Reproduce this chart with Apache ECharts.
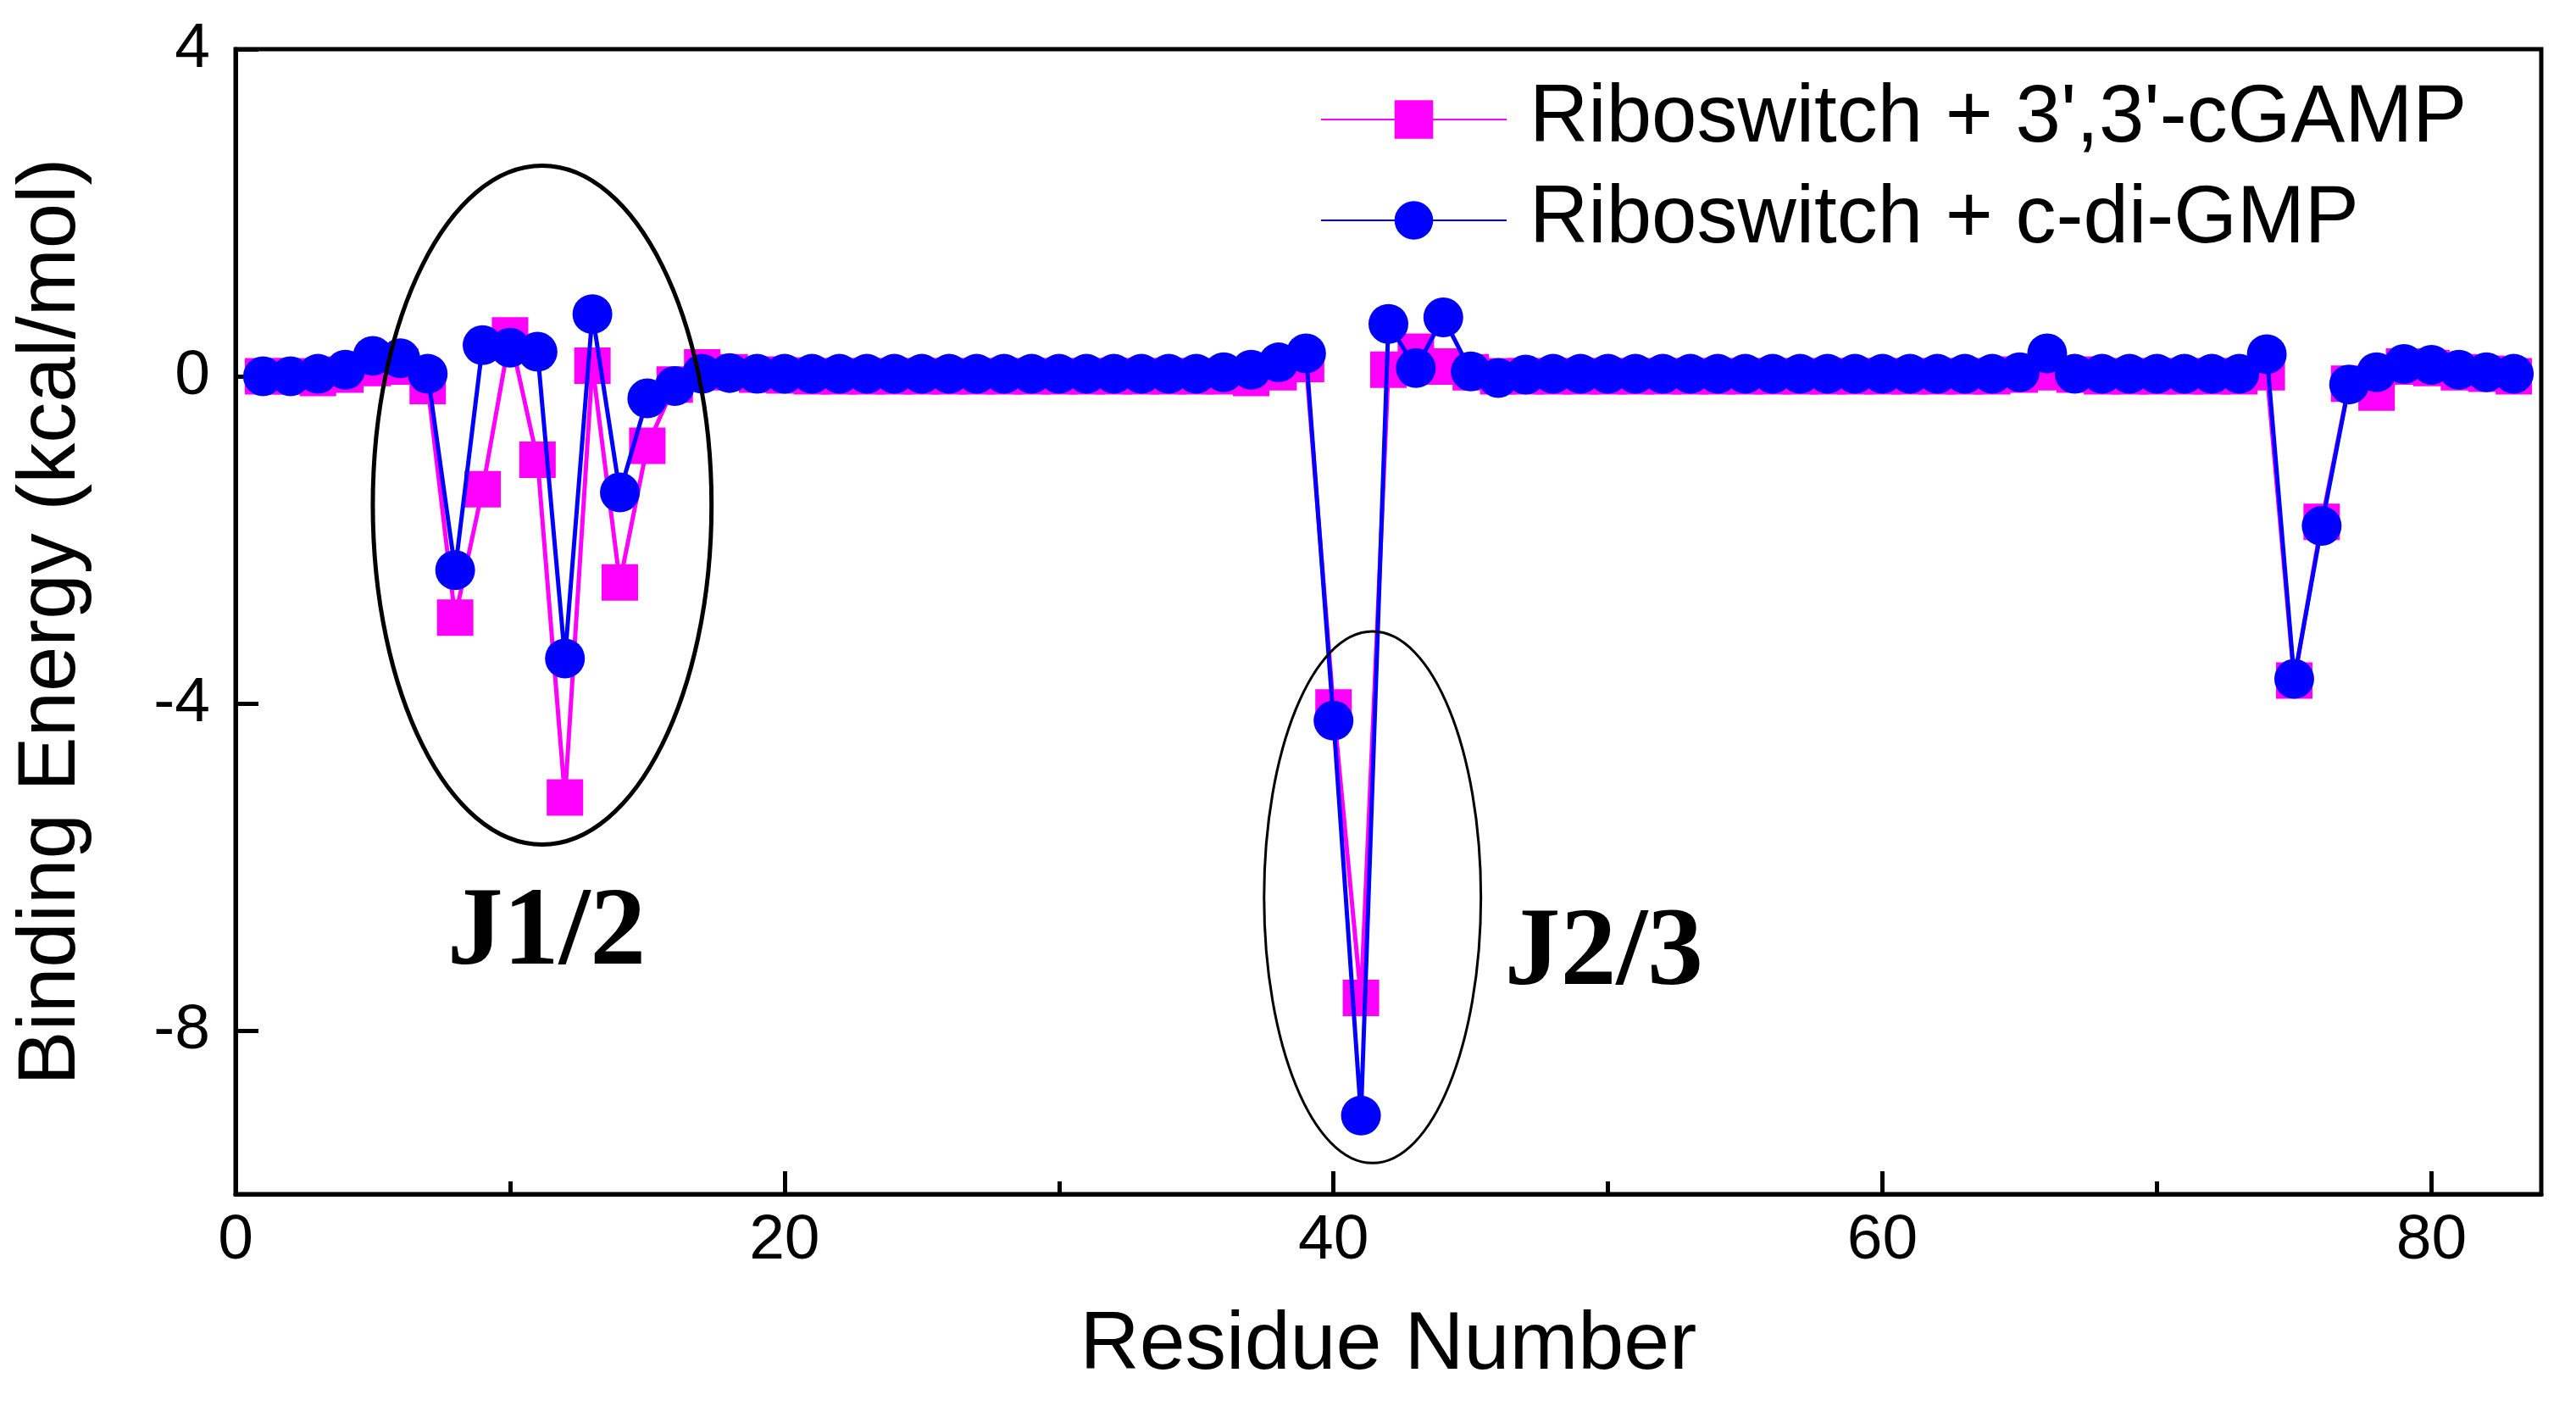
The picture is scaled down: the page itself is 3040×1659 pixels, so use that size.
<!DOCTYPE html>
<html>
<head>
<meta charset="utf-8">
<script src="https://cdn.jsdelivr.net/npm/echarts@6/dist/echarts.min.js"></script>
<style>
html,body{margin:0;padding:0;background:#fff;}
#chart{width:3040px;height:1659px;}
</style>
</head>
<body>
<div id="chart"></div>
<script>
// ---------------- data ----------------
const residues = [
  1,2,3,4,5,6,7,8,9,10,11,12,13,14,15,16,17,18,19,20,
  21,22,23,24,25,26,27,28,29,30,31,32,33,34,35,36,37,38,39,40,
  41,42,43,44,45,46,47,48,49,50,51,52,53,54,55,56,57,58,59,60,
  61,62,63,64,65,66,67,68,69,70,71,72,73,74,75,76,77,78,79,80,
  81,82,83
];
const cGAMP = [
  0.00,0.00,-0.02,0.02,0.10,0.12,-0.12,-2.95,-1.38,0.50,
  -1.02,-5.15,0.13,-2.52,-0.85,-0.10,0.11,0.05,0.02,0.01,
  0.00,0.00,0.00,0.00,0.00,0.00,0.00,0.00,0.00,0.00,
  0.00,0.00,0.00,0.00,0.00,0.00,-0.02,0.05,0.15,-4.05,
  -7.60,0.08,0.30,0.12,0.05,0.00,0.00,0.00,0.00,0.00,
  0.00,0.00,0.00,0.00,0.00,0.00,0.00,0.00,0.00,0.00,
  0.00,0.00,0.00,0.00,0.02,0.05,0.02,0.00,0.00,0.00,
  0.00,0.00,0.00,0.05,-3.72,-1.78,-0.09,-0.20,0.12,0.10,
  0.05,0.03,0.00
];
const cdiGMP = [
  0.00,0.00,0.03,0.08,0.25,0.22,0.03,-2.37,0.38,0.35,
  0.30,-3.45,0.76,-1.42,-0.27,-0.12,0.03,0.04,0.03,0.03,
  0.03,0.03,0.03,0.03,0.03,0.03,0.03,0.03,0.03,0.03,
  0.03,0.03,0.03,0.03,0.03,0.05,0.08,0.17,0.28,-4.21,
  -9.04,0.64,0.10,0.72,0.06,-0.02,0.02,0.03,0.03,0.03,
  0.03,0.03,0.03,0.03,0.03,0.03,0.03,0.03,0.03,0.03,
  0.03,0.03,0.03,0.03,0.05,0.28,0.03,0.03,0.03,0.03,
  0.03,0.03,0.03,0.27,-3.70,-1.83,-0.10,0.05,0.15,0.14,
  0.08,0.05,0.03
];
const seriesNames = ["Riboswitch + 3',3'-cGAMP", "Riboswitch + c-di-GMP"];
const xTicks = [0, 20, 40, 60, 80];
const xMinorTicks = [10, 30, 50, 70];
const yTicks = [-8, -4, 0, 4];
// annotation regions in data units: [centerX, centerY, radiusX, radiusY]
const regionEllipses = [[11.17, -1.575, 6.17, 4.15], [41.42, -6.37, 3.95, 3.25]];
const regionLabels = ['J1/2', 'J2/3'];
const regionLabelPos = [[11.33, -6.83], [49.85, -7.08]];

// ---------------- chart ----------------
const chart = echarts.init(document.getElementById('chart'), null, {renderer: 'canvas'});
const FONT = '"Liberation Sans", Arial, sans-serif';
const ellipseWidths = [5, 3];

const option = {
  animation: false,
  backgroundColor: '#ffffff',
  grid: {left: 278, right: 41, top: 58, bottom: 250, show: true, borderColor: '#000', borderWidth: 5, containLabel: false},
  legend: {
    orient: 'vertical', left: 1558, top: 86, padding: 0, itemGap: 9,
    itemWidth: 219, itemHeight: 57,
    data: seriesNames,
    textStyle: {fontFamily: FONT, fontSize: 96, color: '#000', lineHeight: 110, padding: [0, 0, 0, 22]}
  },
  xAxis: [{
    type: 'value', min: 0, max: 84, interval: 20,
    name: 'Residue Number', nameLocation: 'middle', nameGap: 131,
    nameTextStyle: {fontFamily: FONT, fontSize: 97, color: '#000'},
    axisLine: {show: true, onZero: false, lineStyle: {color: '#000', width: 5}},
    axisTick: {show: true, inside: true, length: 27, lineStyle: {color: '#000', width: 5}, customValues: xTicks},
    axisLabel: {fontFamily: FONT, fontSize: 75, color: '#000', margin: 18, customValues: xTicks},
    splitLine: {show: false}
  }, {
    type: 'value', min: 0, max: 84, position: 'bottom',
    axisLine: {show: false, onZero: false},
    axisTick: {show: true, inside: true, length: 15, lineStyle: {color: '#000', width: 5}, customValues: xMinorTicks},
    axisLabel: {show: false},
    splitLine: {show: false}
  }],
  yAxis: {
    type: 'value', min: -10, max: 4,
    name: 'Binding Energy (kcal/mol)', nameLocation: 'middle', nameGap: 168,
    nameTextStyle: {fontFamily: FONT, fontSize: 96, color: '#000'},
    axisLine: {show: true, onZero: false, lineStyle: {color: '#000', width: 5}},
    axisTick: {show: true, inside: true, length: 27, lineStyle: {color: '#000', width: 5}, customValues: yTicks},
    axisLabel: {fontFamily: FONT, fontSize: 75, color: '#000', margin: 30, customValues: yTicks},
    splitLine: {show: false}
  },
  series: [
    {
      name: seriesNames[0], type: 'line',
      data: residues.map((r, i) => [r, cGAMP[i]]),
      symbol: 'rect', symbolSize: 43,
      itemStyle: {color: '#ff00ff'},
      lineStyle: {color: '#ff00ff', width: 5},
      z: 2
    },
    {
      name: seriesNames[1], type: 'line',
      data: residues.map((r, i) => [r, cdiGMP[i]]),
      symbol: 'circle', symbolSize: 47,
      itemStyle: {color: '#0000ff'},
      lineStyle: {color: '#0000ff', width: 5},
      z: 3
    },
    {
      name: 'regions', type: 'custom', silent: true, clip: false, z: 4,
      data: regionEllipses,
      encode: {x: 0, y: 1},
      renderItem: function (params, api) {
        const c = api.coord([api.value(0), api.value(1)]);
        const s = api.size([api.value(2), api.value(3)], [api.value(0), api.value(1)]);
        return {
          type: 'ellipse',
          shape: {cx: c[0], cy: c[1], rx: s[0], ry: s[1]},
          style: {fill: 'none', stroke: '#000', lineWidth: ellipseWidths[params.dataIndex]}
        };
      }
    },
    {
      name: 'regionLabels', type: 'custom', silent: true, clip: false, z: 5,
      data: regionLabelPos,
      encode: {x: 0, y: 1},
      renderItem: function (params, api) {
        const c = api.coord([api.value(0), api.value(1)]);
        return {
          type: 'text', x: c[0], y: c[1],
          style: {
            text: regionLabels[params.dataIndex],
            font: 'bold 132px "Liberation Serif", "Times New Roman", serif',
            fill: '#000', align: 'center', verticalAlign: 'middle'
          }
        };
      }
    }
  ]
};
chart.setOption(option);
</script>
</body>
</html>
